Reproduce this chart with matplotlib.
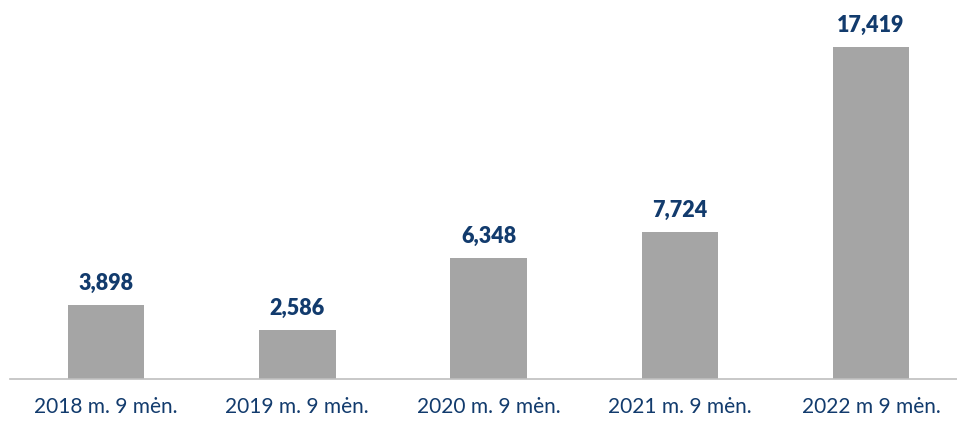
import matplotlib
matplotlib.use("Agg")
import matplotlib.pyplot as plt

categories = ["2018 m. 9 mėn.", "2019 m. 9 mėn.", "2020 m. 9 mėn.", "2021 m. 9 mėn.", "2022 m 9 mėn."]
values = [3898, 2586, 6348, 7724, 17419]

bar_color = "#A5A5A5"
text_color = "#123B6D"

plt.rcParams['font.family'] = ['Lato', 'DejaVu Sans']

W, H = 957, 421
fig = plt.figure(figsize=(W / 100, H / 100), dpi=100)
ax = fig.add_axes([10.4 / W, (H - 379) / H, 956.25 / W, 379 / H])

x = range(len(categories))
bars = ax.bar(x, values, width=0.40, color=bar_color, zorder=2)
ax.set_xlim(-0.5, len(categories) - 0.5)
ax.set_ylim(0, 17419 * 379 / 332)

for b, v in zip(bars, values):
    ax.annotate(f"{v:,}", (b.get_x() + b.get_width() / 2, v), xytext=(0, 8),
                textcoords="offset points", ha="center", va="bottom",
                fontsize=15.5, fontweight="heavy", color=text_color)

ax.set_xticks(list(x))
ax.set_xticklabels(categories, fontsize=15, color=text_color)
ax.tick_params(axis="x", length=0, pad=13)
ax.set_yticks([])
for s in ["top", "left", "right"]:
    ax.spines[s].set_visible(False)
ax.spines["bottom"].set_color("#BFBFBF")
ax.spines["bottom"].set_linewidth(1.2)

fig.savefig("out.png", dpi=100)
